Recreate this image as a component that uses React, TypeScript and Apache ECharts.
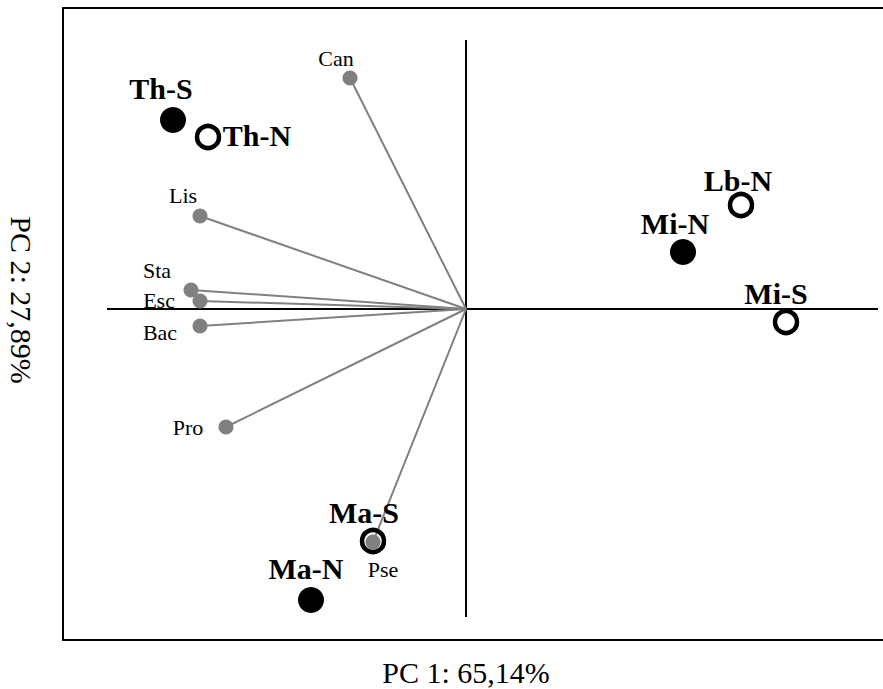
import React, { useEffect, useRef } from "react";
import * as echarts from "echarts";

// PCA loadings (variables) - vector tips
const variableNames = ["Can", "Lis", "Sta", "Esc", "Bac", "Pro", "Pse"];
const variableX = [-1.16, -2.66, -2.75, -2.66, -2.66, -2.4, -0.93];
const variableY = [2.31, 0.93, 0.19, 0.08, -0.17, -1.18, -2.33];

// PCA scores (samples)
const sampleNames = ["Th-S", "Th-N", "Lb-N", "Mi-N", "Mi-S", "Ma-S", "Ma-N"];
const sampleX = [-2.93, -2.58, 2.75, 2.17, 3.2, -0.93, -1.55];
const sampleY = [1.89, 1.72, 1.04, 0.57, -0.13, -2.32, -2.91];
const sampleFilled = [true, false, false, true, false, false, true];

// reference cross lines
const hLineX = [-3.59, 4.12];
const vLineY = [2.69, -3.08];

const xTitle = "PC 1: 65,14%";
const yTitle = "PC 2: 27,89%";

// label placement (style)
const varLabelOffset: Record<string, [number, number]> = {
  Can: [-14, -20],
  Lis: [-17, -21],
  Sta: [-34, -20],
  Esc: [-41, -1],
  Bac: [-40, 6],
  Pro: [-38, 0],
  Pse: [10, 27],
};
const sampleLabelOffset: Record<string, [number, number]> = {
  "Th-S": [-12, -32],
  "Th-N": [49, -2],
  "Lb-N": [-3, -25],
  "Mi-N": [-8, -29],
  "Mi-S": [-10, -29],
  "Ma-S": [-9, -29],
  "Ma-N": [-5, -32],
};

const FONT = "'Liberation Serif', 'Times New Roman', serif";

export default function App() {
  const ref = useRef<HTMLDivElement>(null);
  useEffect(() => {
    if (!ref.current) return;
    const chart = echarts.init(ref.current, null, { renderer: "svg" });

    const vectorData = variableNames.map((n, i) => ({
      coords: [
        [0, 0],
        [variableX[i], variableY[i]],
      ],
    }));

    const varPoints = variableNames.map((n, i) => ({
      name: n,
      value: [variableX[i], variableY[i]],
      label: {
        show: true,
        formatter: n,
        position: "inside",
        offset: varLabelOffset[n],
        align: "center",
        verticalAlign: "middle",
        color: "#000",
        textBorderWidth: 0,
        fontFamily: FONT,
        fontSize: 22,
      },
    }));

    const samplePoints = sampleNames.map((n, i) => ({
      name: n,
      value: [sampleX[i], sampleY[i]],
      symbolSize: sampleFilled[i] ? 26 : 22,
      itemStyle: sampleFilled[i]
        ? { color: "#000", borderWidth: 0, opacity: 1 }
        : { color: "rgba(255,255,255,0)", borderColor: "#000", borderWidth: 4.5, opacity: 1 },
      label: {
        show: true,
        formatter: n,
        position: "inside",
        offset: sampleLabelOffset[n],
        align: "center",
        verticalAlign: "middle",
        color: "#000",
        textBorderWidth: 0,
        fontFamily: FONT,
        fontWeight: "bold",
        fontSize: 30,
      },
    }));

    chart.setOption({
      animation: false,
      backgroundColor: "#fff",
      grid: {
        left: 63,
        top: 8,
        width: 840,
        bottom: 49,
        outerBoundsMode: "none",
        show: true,
        borderColor: "#000",
        borderWidth: 2,
        backgroundColor: "transparent",
      },
      xAxis: {
        type: "value",
        min: -4.03,
        max: 4.37,
        show: false,
      },
      yAxis: {
        type: "value",
        min: -3.31,
        max: 3.01,
        show: false,
      },
      graphic: [
        {
          type: "text",
          x: 466,
          y: 672,
          style: {
            text: xTitle,
            fontFamily: FONT,
            fontSize: 30,
            fill: "#000",
            align: "center",
            verticalAlign: "middle",
          },
        },
        {
          type: "text",
          x: 21,
          y: 300,
          rotation: -Math.PI / 2,
          style: {
            text: yTitle,
            fontFamily: FONT,
            fontSize: 30,
            fill: "#000",
            align: "center",
            verticalAlign: "middle",
          },
        },
      ],
      series: [
        {
          type: "line",
          data: [
            [hLineX[0], 0],
            [hLineX[1], 0],
          ],
          symbol: "none",
          lineStyle: { color: "#000", width: 2 },
          z: 1,
        },
        {
          type: "line",
          data: [
            [0, vLineY[0]],
            [0, vLineY[1]],
          ],
          symbol: "none",
          lineStyle: { color: "#000", width: 2 },
          z: 1,
        },
        {
          type: "lines",
          coordinateSystem: "cartesian2d",
          data: vectorData,
          lineStyle: { color: "#808080", width: 2, opacity: 1 },
          z: 2,
        },
        {
          type: "scatter",
          data: varPoints,
          symbol: "circle",
          symbolSize: 15,
          itemStyle: { color: "#808080", opacity: 1 },
          z: 3,
        },
        {
          type: "scatter",
          data: samplePoints,
          symbol: "circle",
          z: 4,
        },
      ],
    });
    return () => chart.dispose();
  }, []);
  return (
    <div
      ref={ref}
      style={{ position: "absolute", left: 0, top: 0, width: 883, height: 689 }}
    />
  );
}
